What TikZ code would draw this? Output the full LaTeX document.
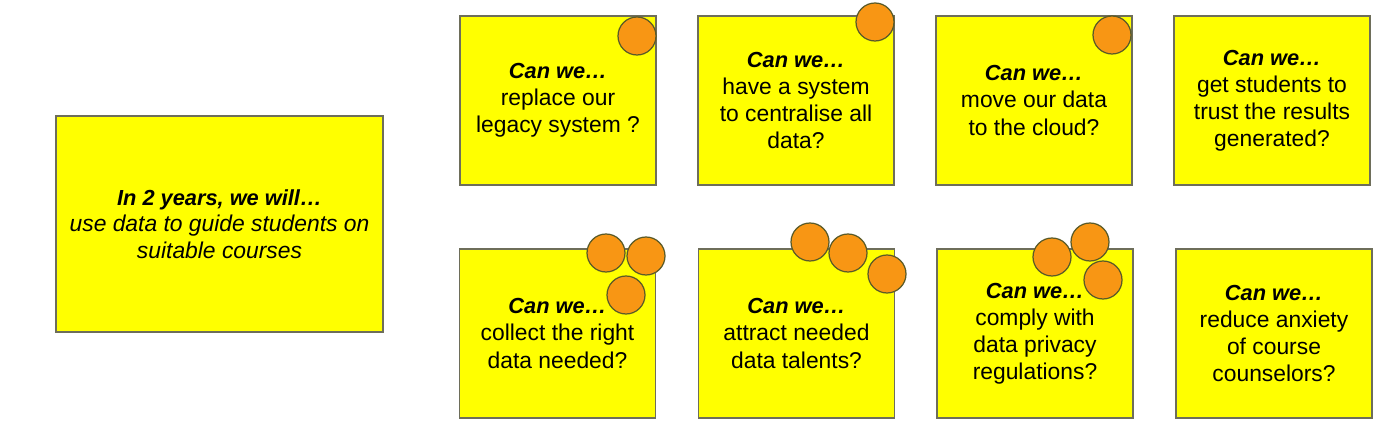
\documentclass[tikz,border=0pt]{standalone}
\usepackage{fontspec}
\setmainfont{Liberation Sans}
\usetikzlibrary{positioning}

\definecolor{noteyellow}{RGB}{255,255,0}
\definecolor{dotorange}{RGB}{248,150,20}
\definecolor{noteedge}{RGB}{110,110,90}
\definecolor{dotedge}{RGB}{90,90,40}

\newcommand{\canwe}{{\fontsize{12.4}{15.4}\selectfont\bfseries\itshape Can we…}}

\begin{document}
\begin{tikzpicture}[
  goal/.style={rectangle, draw=noteedge, line width=0.6pt, fill=noteyellow, minimum width=6.54cm, minimum height=4.32cm, text centered, align=center, font=\fontsize{13}{15}\selectfont\itshape},
  note/.style={rectangle, draw=noteedge, line width=0.6pt, fill=noteyellow, minimum width=3.92cm, minimum height=3.38cm, text centered, align=center, font=\fontsize{13}{15.4}\selectfont},
  vote/.style={circle, draw=dotedge, line width=0.7pt, fill=dotorange, minimum size=0.76cm, inner sep=0pt}
]
  \useasboundingbox (0,0) rectangle (28,-8.76);

  \node[goal] (goal) at (4.39,-4.48) {{\fontsize{12.4}{15}\selectfont\bfseries In 2 years, we will…}\\use data to guide students on\\suitable courses};

  \node[note] (legacy) at (11.16,-2.01) {\canwe\\replace our\\legacy system ?};
  \node[note] (central) at (15.92,-2.01) {\canwe\\have a system\\to centralise all\\data?};
  \node[note] (cloud) at (20.68,-2.01) {\canwe\\move our data\\to the cloud?};
  \node[note] (trust) at (25.44,-2.01) {\canwe\\get students to\\trust the results\\generated?};

  \node[note] (collect) at (11.15,-6.67) {\canwe\\collect the right\\data needed?};
  \node[note] (talent) at (15.93,-6.67) {\canwe\\attract needed\\data talents?};
  \node[note] (privacy) at (20.70,-6.67) {\canwe\\comply with\\data privacy\\regulations?};
  \node[note] (anxiety) at (25.48,-6.67) {\canwe\\reduce anxiety\\of course\\counselors?};

  % votes
  \node[vote] (v1) at (12.74,-0.72) {};
  \node[vote] (v2) at (17.50,-0.44) {};
  \node[vote] (v3) at (22.24,-0.70) {};
  \node[vote] (v4) at (12.12,-5.06) {};
  \node[vote] (v5) at (12.92,-5.12) {};
  \node[vote] (v6) at (12.52,-5.90) {};
  \node[vote] (v7) at (16.20,-4.84) {};
  \node[vote] (v8) at (16.96,-5.06) {};
  \node[vote] (v9) at (17.74,-5.48) {};
  \node[vote] (v10) at (21.04,-5.14) {};
  \node[vote] (v11) at (21.80,-4.84) {};
  \node[vote] (v12) at (22.06,-5.60) {};
\end{tikzpicture}
\end{document}
